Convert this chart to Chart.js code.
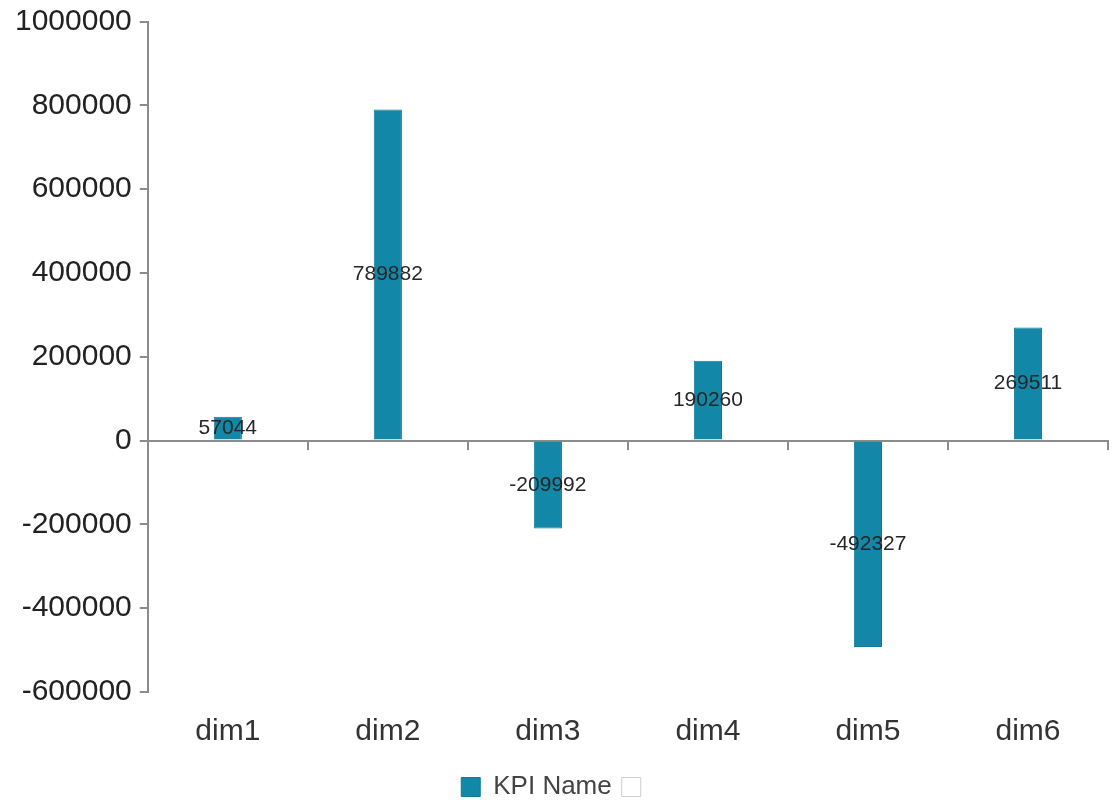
<!DOCTYPE html>
<html>
<head>
<meta charset="utf-8">
<script src="https://cdn.jsdelivr.net/npm/chart.js@4.4.1/dist/chart.umd.min.js"></script>
<style>
  body { margin: 0; background: #fff; }
  #wrap { width: 1113px; height: 800px; }
</style>
</head>
<body>
<div id="wrap"><canvas id="chart" width="1113" height="800"></canvas></div>
<script>
const categories = ['dim1', 'dim2', 'dim3', 'dim4', 'dim5', 'dim6'];
const kpiValues = [57044, 789882, -209992, 190260, -492327, 269511];
const seriesName = 'KPI Name';
const yMin = -600000;
const yMax = 1000000;
const yStep = 200000;

const axisColor = '#8c8c8c';
const barColor = '#1287a8';
const fontFamily = '"Liberation Sans", Arial, sans-serif';

// value labels drawn in the middle of each bar
const barLabels = {
    id: 'barLabels',
    afterDatasetsDraw(chart) {
        const ctx = chart.ctx;
        const meta = chart.getDatasetMeta(0);
        ctx.save();
        ctx.font = '21px ' + fontFamily;
        ctx.fillStyle = '#262626';
        ctx.textAlign = 'center';
        ctx.textBaseline = 'middle';
        meta.data.forEach((bar, i) => {
            const mid = (bar.y + bar.base) / 2;
            ctx.fillText(String(kpiValues[i]), bar.x, mid);
        });
        ctx.restore();
    }
};

new Chart(document.getElementById('chart').getContext('2d'), {
    type: 'bar',
    data: {
        labels: categories,
        datasets: [{
            label: seriesName,
            data: kpiValues,
            backgroundColor: barColor,
            borderColor: '#0f7c99',
            borderWidth: 1,
            barPercentage: 0.22,
            categoryPercentage: 0.8,
            xAxisID: 'x'
        }]
    },
    options: {
        responsive: false,
        animation: false,
        layout: { padding: { left: 7, right: 5, top: 0, bottom: -10 } },
        plugins: {
            tooltip: { enabled: false },
            legend: {
                position: 'bottom',
                labels: {
                    color: '#444',
                    font: { size: 26, family: fontFamily },
                    boxWidth: 19,
                    boxHeight: 19,
                    padding: 10,
                    generateLabels: function(chart) {
                        const items = Chart.defaults.plugins.legend.labels.generateLabels(chart);
                        items.push({
                            text: '',
                            fillStyle: '#ffffff',
                            strokeStyle: '#cfcfcf',
                            lineWidth: 1,
                            hidden: false,
                            datasetIndex: 1
                        });
                        return items;
                    }
                },
                onClick: null
            }
        },
        scales: {
            y: {
                min: yMin,
                max: yMax,
                ticks: {
                    stepSize: yStep,
                    color: '#222',
                    padding: 8,
                    font: { size: 30, family: fontFamily, lineHeight: 0.9 },
                    callback: v => String(v)
                },
                grid: { drawOnChartArea: false, drawTicks: true, tickLength: 8, color: axisColor, lineWidth: 2 },
                border: { display: true, color: axisColor, width: 2 }
            },
            x: {
                position: 'bottom',
                ticks: {
                    color: '#333',
                    padding: 14,
                    font: { size: 30, family: fontFamily }
                },
                grid: { display: false },
                border: { display: false }
            },
            x2: {
                type: 'category',
                labels: categories,
                position: { y: 0 },
                offset: true,
                ticks: { display: false },
                grid: { offset: true, drawOnChartArea: false, drawTicks: true, tickLength: 8, color: axisColor, lineWidth: 2 },
                border: { display: true, color: axisColor, width: 2 }
            }
        }
    },
    plugins: [barLabels]
});
</script>
</body>
</html>
